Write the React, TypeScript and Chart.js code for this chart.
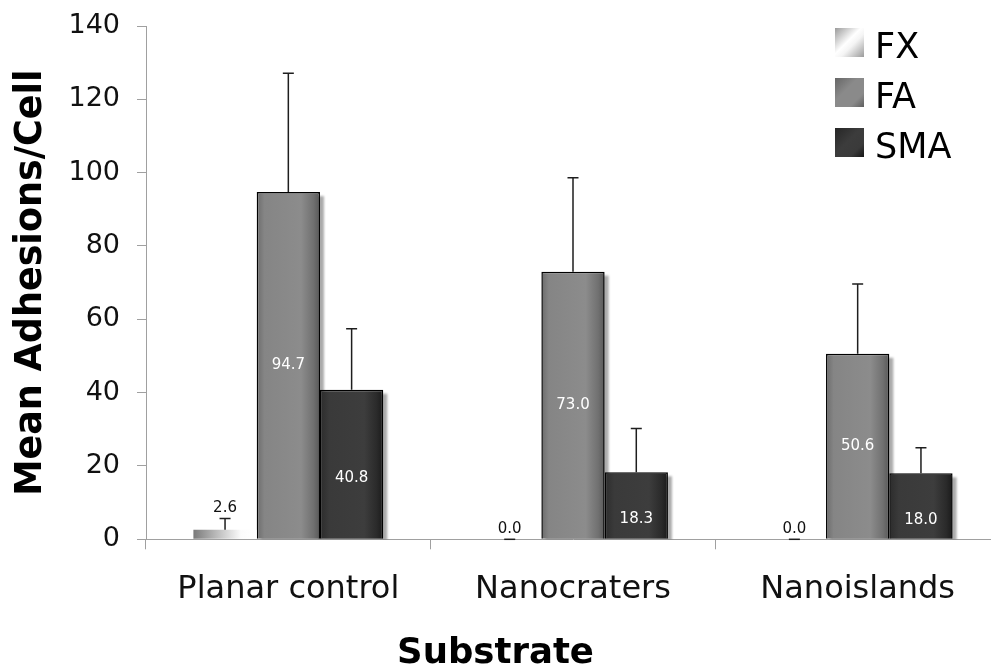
import React, { useEffect, useRef } from "react";
import { Chart, registerables } from "chart.js";

Chart.register(...registerables);

// ---------- data ----------
const categories = ["Planar control", "Nanocraters", "Nanoislands"];
const seriesNames = ["FX", "FA", "SMA"];
const fxValues = [2.6, 0.0, 0.0];
const faValues = [94.7, 73.0, 50.6];
const smaValues = [40.8, 18.3, 18.0];
const fxErrors = [3.1, 0, 0];
const faErrors = [32.4, 25.6, 19.0];
const smaErrors = [16.6, 11.9, 7.0];
const yTickValues = [0, 20, 40, 60, 80, 100, 120, 140];
const xTitle = "Substrate";
const yTitle = "Mean Adhesions/Cell";

const seriesValues = [fxValues, faValues, smaValues];
const seriesErrors = [fxErrors, faErrors, smaErrors];

const FONT = "'DejaVu Sans', Verdana, sans-serif";
const CAT_PCT = 0.667;

type Stops = [number, string][];
const barStops: Stops[] = [
  [[0, "#7a7a7a"], [0.35, "#b8b8b8"], [0.75, "#fbfbfb"], [1, "#ffffff"]],
  [[0, "#6c6c6c"], [0.12, "#858585"], [0.7, "#8c8c8c"], [0.9, "#707070"], [1, "#585858"]],
  [[0, "#2c2c2c"], [0.15, "#3a3a3a"], [0.7, "#3d3d3d"], [0.9, "#2a2a2a"], [1, "#1a1a1a"]],
];
const legendStops: Stops[] = [
  [[0, "#9a9a9a"], [0.45, "#ffffff"], [0.6, "#f4f4f4"], [1, "#9a9a9a"]],
  [[0, "#666666"], [0.4, "#8a8a8a"], [0.75, "#8a8a8a"], [1, "#5e5e5e"]],
  [[0, "#262626"], [0.45, "#3c3c3c"], [0.75, "#3a3a3a"], [1, "#151515"]],
];
const fallbackColors = ["#cccccc", "#888888", "#3a3a3a"];

function makeFill(dsIndex: number) {
  return (ctx: any) => {
    const chart = ctx.chart;
    const xs = chart.scales && chart.scales.x;
    if (!xs || ctx.dataIndex == null || !chart.chartArea) return fallbackColors[dsIndex];
    const catW = xs.width / categories.length;
    const groupW = catW * CAT_PCT;
    const barW = groupW / seriesNames.length;
    const center = xs.getPixelForValue(ctx.dataIndex);
    const left = center - groupW / 2 + dsIndex * barW;
    const g = chart.ctx.createLinearGradient(left, 0, left + barW, 0);
    barStops[dsIndex].forEach(([o, c]) => g.addColorStop(o, c));
    return g;
  };
}

const shadowPlugin = {
  id: "barShadow",
  beforeDatasetsDraw(chart: any) {
    const { ctx, chartArea } = chart;
    ctx.save();
    ctx.beginPath();
    ctx.rect(chartArea.left, chartArea.top, chartArea.right - chartArea.left, chartArea.bottom - chartArea.top);
    ctx.clip();
    ctx.fillStyle = "rgba(0,0,0,0.33)";
    ctx.filter = "blur(1px)";
    for (let d = 1; d < seriesNames.length; d++) {
      const meta = chart.getDatasetMeta(d);
      meta.data.forEach((el: any) => {
        const { x, y, base, width } = el.getProps(["x", "y", "base", "width"], true);
        const left = x - width / 2;
        ctx.fillRect(left + 4, y + 4, width, base - y);
      });
    }
    ctx.restore();
  },
};

const annotatePlugin = {
  id: "annotate",
  afterDatasetsDraw(chart: any) {
    const { ctx } = chart;
    const ys = chart.scales.y;
    ctx.save();
    ctx.textAlign = "center";
    ctx.textBaseline = "middle";
    ctx.font = `15px ${FONT}`;
    for (let d = 0; d < seriesNames.length; d++) {
      const meta = chart.getDatasetMeta(d);
      meta.data.forEach((el: any, i: number) => {
        const { x, y, base } = el.getProps(["x", "y", "base"], true);
        const v = seriesValues[d][i];
        const e = seriesErrors[d][i];
        const topY = ys.getPixelForValue(v + e);
        ctx.strokeStyle = "#1e1e1e";
        ctx.lineWidth = 1.5;
        ctx.beginPath();
        ctx.moveTo(x, y);
        ctx.lineTo(x, topY);
        ctx.moveTo(x - 5.5, topY);
        ctx.lineTo(x + 5.5, topY);
        ctx.stroke();
        const txt = v.toFixed(1);
        if (d === 0) {
          ctx.fillStyle = "#111";
          ctx.fillText(txt, x, topY - 10);
        } else {
          ctx.fillStyle = "#ffffff";
          const mid = (y + base) / 2 + (d === 2 ? 14 : 0);
          ctx.fillText(txt, x, mid);
        }
      });
    }
    ctx.restore();
  },
};

const legendPlugin = {
  id: "customLegend",
  afterDraw(chart: any) {
    const { ctx } = chart;
    ctx.save();
    const x0 = 835;
    const size = 29;
    seriesNames.forEach((name, i) => {
      const y0 = 28 + i * 50;
      const g = ctx.createLinearGradient(x0, y0, x0 + size, y0 + size);
      legendStops[i].forEach(([o, c]) => g.addColorStop(o, c));
      ctx.fillStyle = g;
      ctx.fillRect(x0, y0, size, size);
      ctx.fillStyle = "#000";
      ctx.font = `35px ${FONT}`;
      ctx.textAlign = "left";
      ctx.textBaseline = "alphabetic";
      ctx.fillText(name, 875, y0 + size + 0.7);
    });
    // x-axis title, centred on the whole figure
    ctx.font = `bold 35.5px ${FONT}`;
    ctx.textAlign = "center";
    ctx.textBaseline = "alphabetic";
    ctx.fillStyle = "#000";
    ctx.fillText(xTitle, 495.5, 663);
    ctx.restore();
  },
};

export default function App() {
  const ref = useRef<HTMLCanvasElement | null>(null);
  useEffect(() => {
    if (!ref.current) return;
    Chart.defaults.font.family = FONT;
    const chart = new Chart(ref.current, {
      type: "bar",
      data: {
        labels: categories,
        datasets: seriesNames.map((name, d) => ({
          label: name,
          data: seriesValues[d],
          backgroundColor: makeFill(d),
          borderColor: "#000000",
          borderWidth: d === 0 ? 0 : 1.5,
          borderSkipped: "bottom",
          categoryPercentage: CAT_PCT,
          barPercentage: 1,
        })),
      },
      options: {
        responsive: false,
        animation: false,
        devicePixelRatio: 1,
        layout: { padding: { top: 26, left: 0, right: 0, bottom: 0 } },
        plugins: {
          legend: { display: false },
          tooltip: { enabled: false },
          title: { display: false },
        },
        scales: {
          x: {
            offset: true,
            grid: { drawOnChartArea: false, drawTicks: true, tickLength: 10, color: "#a0a0a0", offset: true },
            border: { display: true, color: "#a0a0a0", width: 1 },
            ticks: { color: "#111", font: { size: 32, family: FONT }, padding: 21.5 },
            title: { display: false, text: xTitle },
            afterFit: (scale: any) => {
              scale.height = 128.7;
              scale.paddingLeft = 0;
              scale.paddingRight = 0;
            },
          },
          y: {
            min: 0,
            max: 140,
            afterBuildTicks: (scale: any) => {
              scale.ticks = yTickValues.map((v) => ({ value: v }));
            },
            grid: { drawOnChartArea: false, drawTicks: true, tickLength: 9, color: "#a0a0a0" },
            border: { display: true, color: "#a0a0a0", width: 1 },
            ticks: { color: "#111", font: { size: 27, family: FONT }, padding: 17 },
            title: {
              display: true,
              text: yTitle,
              color: "#000",
              font: { size: 36.5, weight: "bold", family: FONT, lineHeight: 1 },
              padding: { top: 13.5, bottom: 1.5 },
            },
            afterFit: (scale: any) => {
              scale.width = 146;
              scale.paddingTop = 0;
              scale.paddingBottom = 0;
            },
          },
        },
      },
      plugins: [shadowPlugin, annotatePlugin, legendPlugin],
    });
    return () => chart.destroy();
  }, []);

  return (
    <div
      style={{
        position: "fixed",
        left: 0,
        top: 0,
        width: 991,
        height: 668,
        overflow: "hidden",
        background: "#fff",
      }}
    >
      <canvas ref={ref} width={1000} height={668} style={{ display: "block", width: 1000, height: 668 }} />
    </div>
  );
}
